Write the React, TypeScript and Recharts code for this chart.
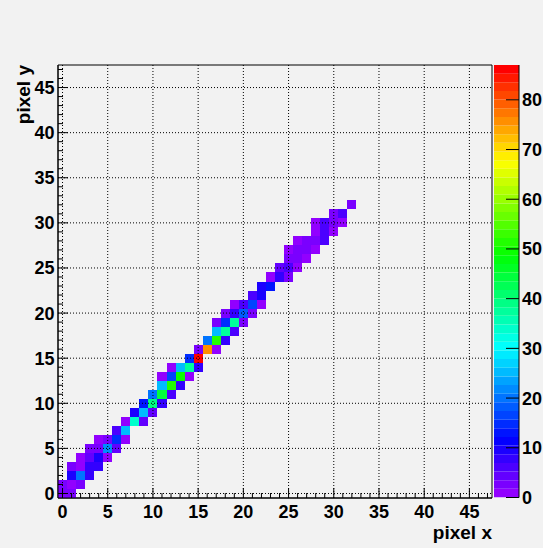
import React from 'react';
import {
  ScatterChart, Scatter, XAxis, YAxis, ReferenceLine, ReferenceArea, Label,
  BarChart, Bar,
} from 'recharts';

// ---- data: occupied bins of the 2D histogram (pixel x, pixel y, content) ----
const cellX = [
  0, 1,
  0, 1, 2,
  1, 2, 3,
  1, 2, 3, 4,
  2, 3, 4, 5,
  3, 4, 5, 6,
  4, 5, 6, 7,
  6, 7,
  7, 8, 9,
  8, 9, 10,
  9, 10, 11,
  10, 11, 12,
  11, 12, 13,
  11, 12, 13, 14,
  12, 13, 14, 15,
  14, 15,
  15, 16, 17,
  16, 17, 18,
  17, 18, 19,
  17, 18, 19, 20,
  18, 19, 20, 21,
  19, 20, 21, 22,
  21, 22,
  22, 23,
  23, 24, 25,
  24, 25, 26,
  25, 26, 27,
  25, 26, 27, 28,
  26, 27, 28, 29,
  28, 29, 30,
  28, 29, 30, 31,
  30, 31,
  32,
];
const cellY = [
  0, 0,
  1, 1, 1,
  2, 2, 2,
  3, 3, 3, 3,
  4, 4, 4, 4,
  5, 5, 5, 5,
  6, 6, 6, 6,
  7, 7,
  8, 8, 8,
  9, 9, 9,
  10, 10, 10,
  11, 11, 11,
  12, 12, 12,
  13, 13, 13, 13,
  14, 14, 14, 14,
  15, 15,
  16, 16, 16,
  17, 17, 17,
  18, 18, 18,
  19, 19, 19, 19,
  20, 20, 20, 20,
  21, 21, 21, 21,
  22, 22,
  23, 23,
  24, 24, 24,
  25, 25, 25,
  26, 26, 26,
  27, 27, 27, 27,
  28, 28, 28, 28,
  29, 29, 29,
  30, 30, 30, 30,
  31, 31,
  32,
];
const cellZ = [
  2, 2,
  2, 1, 2,
  10, 20, 7,
  2, 1, 7, 7,
  1, 4, 9, 1,
  2, 3, 21, 4,
  1, 3, 14, 1,
  6, 25,
  1, 34, 4,
  10, 25, 5,
  13, 40, 8,
  20, 44, 6,
  25, 52, 7,
  1, 17, 49, 1,
  1, 25, 37, 7,
  15, 87,
  3, 75, 1,
  20, 52, 7,
  25, 37, 6,
  2, 15, 37, 3,
  2, 7, 19, 2,
  1, 6, 17, 1,
  6, 9,
  10, 13,
  1, 8, 3,
  5, 6, 1,
  2, 2, 1,
  1, 2, 2, 1,
  1, 2, 2, 6,
  1, 6, 1,
  1, 6, 2, 1,
  2, 6,
  2,
];

const axisTicks = [
  0, 1, 2, 3, 4, 5, 6, 7, 8, 9, 10, 11, 12, 13, 14, 15, 16, 17, 18, 19, 20, 21, 22, 23,
  24, 25, 26, 27, 28, 29, 30, 31, 32, 33, 34, 35, 36, 37, 38, 39, 40, 41, 42, 43, 44, 45, 46, 47,
];
const gridValues = [0, 5, 10, 15, 20, 25, 30, 35, 40, 45];
const paletteTicks = [0, 10, 20, 30, 40, 50, 60, 70, 80];
const Z_MAX = 87;
const N_COLORS = 50;
const AXIS_MIN = -0.5;
const AXIS_MAX = 47.5;

// ---- layout ----
const W = 543;
const H = 548;
const PLOT_LEFT = 58;
const PLOT_TOP = 65;
const PLOT_RIGHT = 492;
const PLOT_BOTTOM = 498;
const PLOT_W = PLOT_RIGHT - PLOT_LEFT;
const PLOT_H = PLOT_BOTTOM - PLOT_TOP;
const CELL_W = PLOT_W / (AXIS_MAX - AXIS_MIN);
const CELL_H = PLOT_H / (AXIS_MAX - AXIS_MIN);
const FONT = '"Liberation Sans", Arial, Helvetica, sans-serif';
const BG = '#f2f2f2';

// ROOT "pretty" palette: 50 HLS colours from violet to red
const paletteColor = (i: number) => {
  const hue = 280 - (i + 1) * (280 / N_COLORS);
  return `hsl(${hue.toFixed(2)}, 100%, 50%)`;
};
const colorFor = (z: number) => {
  let i = Math.floor(0.01 + (z * N_COLORS) / Z_MAX);
  if (i > N_COLORS - 1) i = N_COLORS - 1;
  if (i < 0) i = 0;
  return paletteColor(i);
};

const cells = cellX.map((x, k) => ({ x, y: cellY[k], z: cellZ[k] }));

const paletteKeys = Array.from({ length: N_COLORS }, (_, i) => `c${i}`);
const paletteRow: Record<string, number | string> = { name: 'z' };
paletteKeys.forEach((k) => {
  paletteRow[k] = Z_MAX / N_COLORS;
});
const paletteData = [paletteRow];

const CellShape = (props: any) => {
  const { cx, cy, payload } = props;
  if (cx == null || cy == null) return null;
  return (
    <rect
      x={cx - CELL_W / 2}
      y={cy - CELL_H / 2}
      width={CELL_W}
      height={CELL_H}
      fill={colorFor(payload.z)}
      shapeRendering="crispEdges"
    />
  );
};

const XTick = (props: any) => {
  const { x, y, payload } = props;
  const v = payload.value;
  const major = v % 5 === 0;
  return (
    <g>
      <line x1={x} x2={x} y1={y} y2={y - (major ? 10 : 5)} stroke="#000" strokeWidth={1} />
      {major && (
        <text x={x} y={y + 20} textAnchor="middle" fontFamily={FONT} fontWeight="bold" fontSize={18} fill="#000">
          {v}
        </text>
      )}
    </g>
  );
};

const YTick = (props: any) => {
  const { x, y, payload } = props;
  const v = payload.value;
  const major = v % 5 === 0;
  return (
    <g>
      <line x1={x} x2={x + (major ? 10 : 5)} y1={y} y2={y} stroke="#000" strokeWidth={1} />
      {major && (
        <text x={x - 3.5} y={y} dy="0.36em" textAnchor="end" fontFamily={FONT} fontWeight="bold" fontSize={18} fill="#000">
          {v}
        </text>
      )}
    </g>
  );
};

const PTick = (props: any) => {
  const { x, y, payload } = props;
  return (
    <g>
      <line x1={x - 13} x2={x} y1={y} y2={y} stroke="#000" strokeWidth={1} />
      <text x={x + 3} y={y} dy="0.36em" textAnchor="start" fontFamily={FONT} fontWeight="bold" fontSize={18} fill="#000">
        {payload.value}
      </text>
    </g>
  );
};

const XTitle = (props: any) => {
  const vb = props.viewBox || {};
  return (
    <text x={vb.x + vb.width} y={vb.y + 41} textAnchor="end" fontFamily={FONT} fontWeight="bold" fontSize={19} fill="#000">
      pixel x
    </text>
  );
};

const YTitle = (props: any) => {
  const vb = props.viewBox || {};
  const tx = 30;
  const ty = vb.y;
  return (
    <text
      x={tx}
      y={ty}
      transform={`rotate(-90, ${tx}, ${ty})`}
      textAnchor="end"
      fontFamily={FONT}
      fontWeight="bold"
      fontSize={19}
      fill="#000"
    >
      pixel y
    </text>
  );
};

export default function App() {
  return (
    <div style={{ position: 'absolute', left: 0, top: 0, width: W, height: H, background: BG, overflow: 'hidden' }}>
      <div style={{ position: 'absolute', left: 0, top: 0 }}>
        <ScatterChart
          width={W}
          height={H}
          margin={{ top: PLOT_TOP, right: W - PLOT_RIGHT, bottom: H - PLOT_BOTTOM - 30, left: PLOT_LEFT - 50 }}
        >
          <XAxis
            type="number"
            dataKey="x"
            domain={[AXIS_MIN, AXIS_MAX]}
            ticks={axisTicks}
            interval={0}
            allowDataOverflow
            tick={<XTick />}
            tickLine={false}
            tickSize={0}
            tickMargin={0}
            axisLine={{ stroke: '#000' }}
            height={30}
          >
            <Label content={XTitle} />
          </XAxis>
          <YAxis
            type="number"
            dataKey="y"
            domain={[AXIS_MIN, AXIS_MAX]}
            ticks={axisTicks}
            interval={0}
            allowDataOverflow
            tick={<YTick />}
            tickLine={false}
            tickSize={0}
            tickMargin={0}
            axisLine={{ stroke: '#000' }}
            width={50}
          >
            <Label content={YTitle} />
          </YAxis>
          <Scatter data={cells} shape={CellShape} isAnimationActive={false} />
          {gridValues.map((v) => (
            <ReferenceLine key={`gx${v}`} x={v} stroke="#000" strokeDasharray="1 2" strokeWidth={1} zIndex={1000} />
          ))}
          {gridValues.map((v) => (
            <ReferenceLine key={`gy${v}`} y={v} stroke="#000" strokeDasharray="1 2" strokeWidth={1} zIndex={1000} />
          ))}
          <ReferenceArea
            x1={AXIS_MIN}
            x2={AXIS_MAX}
            y1={AXIS_MIN}
            y2={AXIS_MAX}
            fill="none"
            fillOpacity={0}
            stroke="#000"
            strokeWidth={1}
            zIndex={1001}
          />
        </ScatterChart>
      </div>
      <div style={{ position: 'absolute', left: 494, top: 0 }}>
        <BarChart
          width={49}
          height={H}
          data={paletteData}
          margin={{ top: PLOT_TOP, right: 0, bottom: H - 497.5, left: 0 }}
          barCategoryGap={0}
          barGap={0}
        >
          <XAxis dataKey="name" hide />
          <YAxis
            orientation="right"
            type="number"
            domain={[0, Z_MAX]}
            ticks={paletteTicks}
            interval={0}
            allowDataOverflow
            tick={<PTick />}
            tickLine={false}
            tickSize={0}
            tickMargin={0}
            axisLine={{ stroke: '#000' }}
            width={24}
          />
          {paletteKeys.map((k, i) => (
            <Bar key={k} dataKey={k} stackId="pal" fill={paletteColor(i)} isAnimationActive={false} />
          ))}
        </BarChart>
      </div>
    </div>
  );
}
